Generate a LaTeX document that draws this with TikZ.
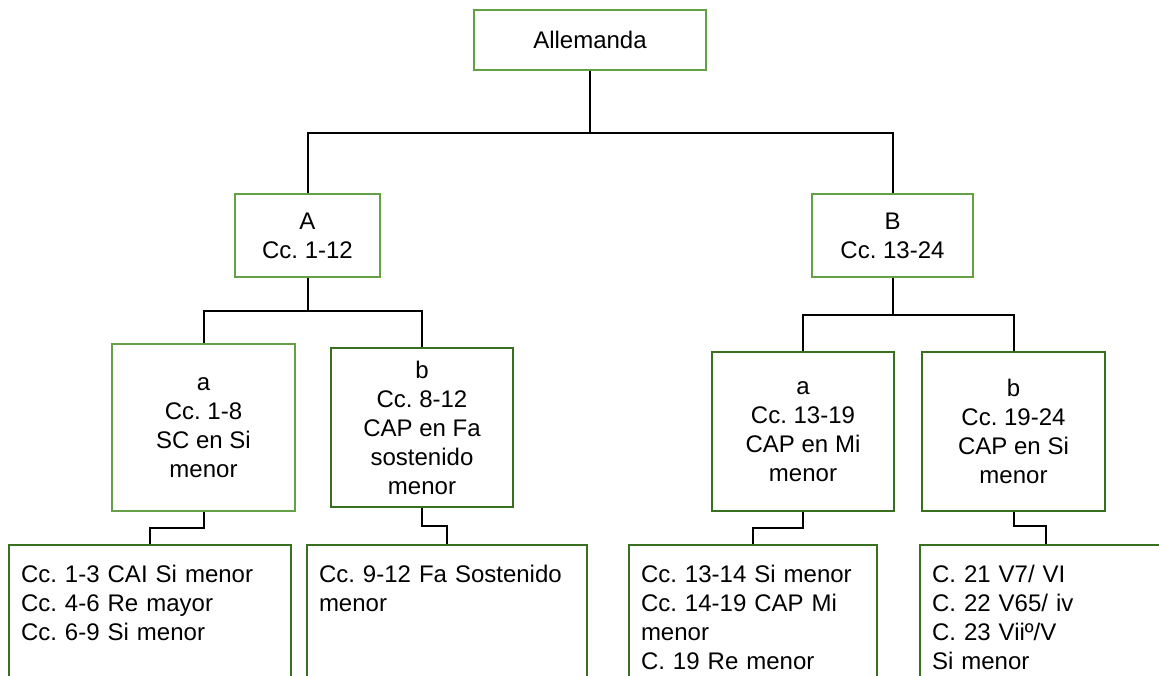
\documentclass[tikz,border=0pt]{standalone}
\usepackage{fontspec}
\setmainfont{Liberation Sans}
\usepackage{tikz}
\usetikzlibrary{positioning}
\frenchspacing
\definecolor{partgreen}{RGB}{100,160,72}
\definecolor{sectgreen}{RGB}{56,112,32}
\tikzstyle{part} = [rectangle, draw=partgreen, line width=2pt, inner sep=0pt, align=center, font=\fontsize{24}{29}\selectfont]
\tikzstyle{section} = [part, draw=sectgreen]
\tikzstyle{detail} = [rectangle, draw=sectgreen, line width=2pt, anchor=north, align=left, inner xsep=12pt, inner ysep=8pt, text height=29pt, text depth=140pt, font=\fontsize{24}{29}\selectfont]
\tikzstyle{link} = [line width=2pt]

\begin{document}
\begin{tikzpicture}[x=1pt, y=-1pt]
    \useasboundingbox (0,0) rectangle (1159,676);
    \clip (0,0) rectangle (1159,676);
    % Movement
    \node (allemanda) [part, minimum width=232pt, minimum height=60pt] at (590,40) {Allemanda};

    % Parts
    \node (partA) [part, minimum width=145pt, minimum height=83pt] at (307.5,235.5) {A\\Cc. 1-12};
    \node (partB) [part, minimum width=161pt, minimum height=83pt] at (892.5,235.5) {B\\Cc. 13-24};

    % Sections of A and B
    \node (Aa) [part, minimum width=183pt, minimum height=167pt] at (203.5,427.5) {a\\Cc. 1-8\\SC en Si\\menor};
    \node (Ab) [section, minimum width=182pt, minimum height=159pt] at (422,427.5) {b\\Cc. 8-12\\CAP en Fa\\sostenido\\menor};
    \node (Ba) [section, minimum width=182pt, minimum height=159pt] at (803,431.5) {a\\Cc. 13-19\\CAP en Mi\\menor};
    \node (Bb) [section, minimum width=183pt, minimum height=159pt] at (1013.5,431.5) {b\\Cc. 19-24\\CAP en Si\\menor};

    % Details (cut off at the bottom)
    \node (detAa) [detail, text width=258pt] at (150,544) {Cc. 1-3 CAI Si menor\\Cc. 4-6 Re mayor\\Cc. 6-9 Si menor};
    \node (detAb) [detail, text width=256pt] at (447,544) {Cc. 9-12 Fa Sostenido\\menor};
    \node (detBa) [detail, text width=224pt] at (753,544) {Cc. 13-14 Si menor\\Cc. 14-19 CAP Mi\\menor\\C. 19 Re menor};
    \node (detBb) [detail, text width=228pt] at (1046,544) {C. 21 V7/ VI\\C. 22 V65/ iv\\C. 23 Viiº/V\\Si menor};

    % Links
    \draw [link] (allemanda.south) -- ++(0,62) -| (partA.north);
    \draw [link] (allemanda.south) -- ++(0,62) -| (partB.north);
    \draw [link] (partA.south) -- ++(0,33) -| (Aa.north);
    \draw [link] (partA.south) -- ++(0,33) -| (Ab.north);
    \draw [link] (partB.south) -- ++(0,37) -| (Ba.north);
    \draw [link] (partB.south) -- ++(0,37) -| (Bb.north);
    \draw [link] (Aa.south) -- ++(0,16) -| (detAa.north);
    \draw [link] (Ab.south) -- ++(0,18) -| (detAb.north);
    \draw [link] (Ba.south) -- ++(0,16) -| (detBa.north);
    \draw [link] (Bb.south) -- ++(0,14) -| (detBb.north);
\end{tikzpicture}
\end{document}
